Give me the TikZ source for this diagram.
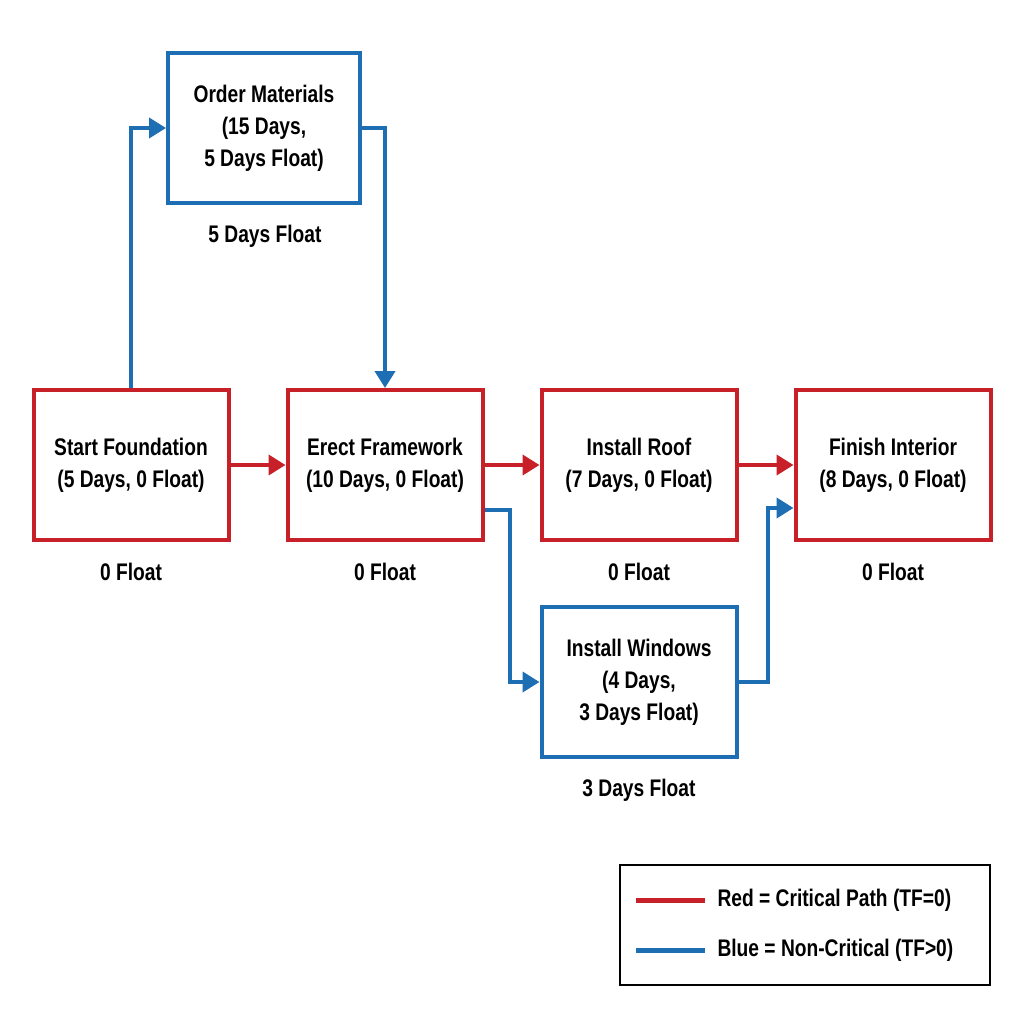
\documentclass[tikz,border=0pt]{standalone}
\usepackage{fontspec}
\setmainfont{Liberation Sans}[FakeStretch=0.8]
\usetikzlibrary{arrows.meta}
\definecolor{cred}{RGB}{200,32,40}
\definecolor{cblue}{RGB}{30,110,180}
\begin{document}
\begin{tikzpicture}[x=1pt,y=-1pt,
  box/.style={draw=#1,line width=4pt,minimum width=195pt,minimum height=150pt,align=center,font=\fontsize{24}{32}\selectfont\bfseries,inner sep=0pt},
  lab/.style={font=\fontsize{24}{28}\selectfont\bfseries},
  conn/.style={draw=#1,line width=4pt,-{Triangle[length=17pt,width=20pt]}}]
\useasboundingbox[fill=white] (0,0) rectangle (1024,1024);
\node[box=cred] (sf) at (131,465) {Start Foundation\\(5 Days, 0 Float)};
\node[box=cred] (ef) at (385,465) {Erect Framework\\(10 Days, 0 Float)};
\node[box=cred] (ir) at (639,465) {Install Roof\\(7 Days, 0 Float)};
\node[box=cred] (fi) at (893,465) {Finish Interior\\(8 Days, 0 Float)};
\node[box=cblue,minimum width=192pt] (om) at (264,128) {Order Materials\\(15 Days,\\5 Days Float)};
\node[box=cblue] (iw) at (639,682) {Install Windows\\(4 Days,\\3 Days Float)};
\node[lab] (l1) at (131,572) {0 Float};
\node[lab] (l2) at (385,572) {0 Float};
\node[lab] (l3) at (639,572) {0 Float};
\node[lab] (l4) at (893,572) {0 Float};
\node[lab] (l5) at (265,236) {5 Days Float};
\node[lab] (l6) at (639,790) {3 Days Float};
\draw[conn=cred] (sf) -- (ef);
\draw[conn=cred] (ef) -- (ir);
\draw[conn=cred] (ir) -- (fi);
\draw[conn=cblue] (sf.north) |- (om.west);
\draw[conn=cblue] (om.east) -| (ef.north);
\coordinate (a) at (ef.east |- 0,510);
\draw[conn=cblue] (a) -| (510,682) -- (iw.west);
\coordinate (b) at (fi.west |- 0,508);
\draw[conn=cblue] (iw.east) -| (768,508) -- (b);
\node[draw=black,line width=1.5pt,minimum width=370pt,minimum height=120pt] (lg) at (805,925) {};
\coordinate (r1) at (636,900); \coordinate (r2) at (705,900);
\coordinate (b1) at (636,950); \coordinate (b2) at (705,950);
\draw[cred,line width=5pt] (r1) -- (r2);
\draw[cblue,line width=5pt] (b1) -- (b2);
\node[lab,anchor=west] (t1) at (714,900) {Red = Critical Path (TF=0)};
\node[lab,anchor=west] (t2) at (714,950) {Blue = Non-Critical (TF>0)};
\end{tikzpicture}
\end{document}
